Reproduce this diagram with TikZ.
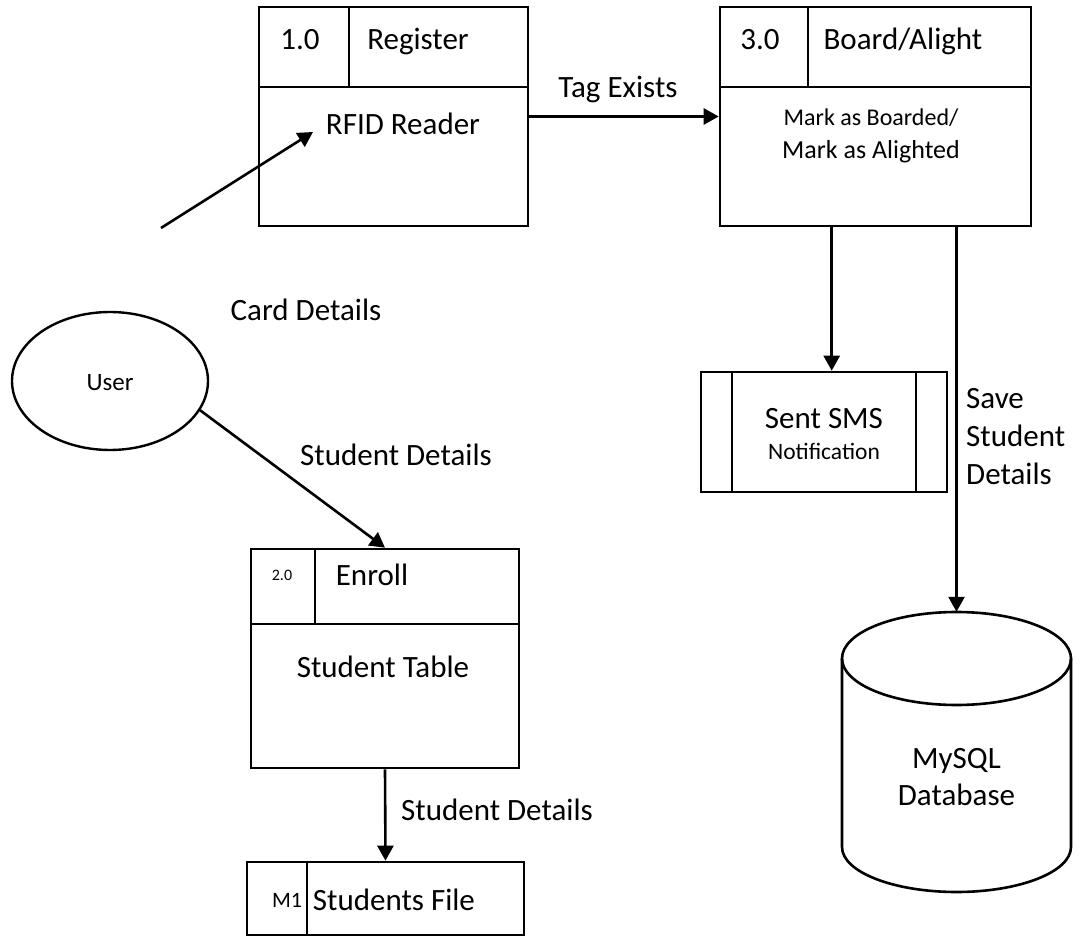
\documentclass[tikz,border=0pt]{standalone}
\usepackage{fontspec}
\setmainfont{Carlito}
\usetikzlibrary{arrows.meta,shapes.geometric,calc}
\tikzset{
  outer/.style={draw,line width=2.6pt,rectangle,inner sep=0pt},
  divider/.style={line width=1.6pt},
  arr/.style={line width=2.6pt,-{Triangle[length=15pt,width=16pt]}},
  plain/.style={line width=2.6pt},
  lbl/.style={inner sep=0pt,text height=20pt,text depth=0pt,font=\fontsize{31}{37}\selectfont},
}
\begin{document}
\begin{tikzpicture}[x=1pt,y=-1pt]
\useasboundingbox (0,0) rectangle (1080,944);
% Box 1.0 Register
\node[outer,minimum width=269pt,minimum height=219pt] (p1) at (393.5,116.5) {};
\draw[divider] (259,87) -- (528,87);
\draw[divider] (349,7) -- (349,87);
\node[lbl] (p1id) at (300,40) {1.0};
\node[lbl] (p1name) at (418,40) {Register};
\node[lbl] (p1txt) at (403,125) {RFID Reader};
% Box 3.0 Board/Alight
\node[outer,minimum width=311pt,minimum height=219pt] (p3) at (875.5,116.5) {};
\draw[divider] (720,87) -- (1031,87);
\draw[divider] (808,7) -- (808,87);
\node[lbl] (p3id) at (760,40) {3.0};
\node[lbl] (p3name) at (903,40) {Board/Alight};
\node[lbl,text height=15.5pt,font=\fontsize{24}{29}\selectfont] (p3txta) at (871,118) {Mark as Boarded/};
\node[lbl,text height=16.7pt,font=\fontsize{26}{31}\selectfont] (p3txtb) at (871,150) {Mark as Alighted};
% Tag Exists
\draw[arr] (p1.east) -- (p3.west);
\node[lbl] (tagl) at (618,88) {Tag Exists};
% Card details arrow
\coordinate (cdstart) at (161,228);
\coordinate (cdend) at (313,132);
\draw[arr] (cdstart) -- (cdend);
\node[lbl] (cardl) at (306,310) {Card Details};
% User
\node[draw,ellipse,line width=2.4pt,minimum width=196pt,minimum height=138pt,inner sep=0pt] (user) at (110,381) {};
\node[lbl,text height=16pt,font=\fontsize{25}{30}\selectfont] (usert) at (110,382) {User};
% Enroll box
\node[outer,minimum width=268pt,minimum height=219pt] (enroll) at (385,658.5) {};
\draw[divider] (251,624) -- (519,624);
\draw[divider] (315,549) -- (315,624);
\node[lbl,text height=10.3pt,font=\fontsize{16}{19}\selectfont] (p2id) at (282,575) {2.0};
\node[lbl] (p2name) at (372,575) {Enroll};
\node[lbl] (p2txt) at (383,667) {Student Table};
\draw[arr] (user.-18.6) -- (enroll.north);
\node[lbl] (sd1) at (396,455) {Student Details};
% Students File
\node[outer,minimum width=277pt,minimum height=73pt] (sf) at (385.5,898.5) {};
\draw[divider] (307,862) -- (307,935);
\node[lbl,text height=14.2pt,font=\fontsize{22}{26}\selectfont] (m1) at (287,900) {M1};
\node[lbl] (sft) at (394,900) {Students File};
\draw[arr] (enroll.south) -- (sf.north);
\node[lbl] (sd2) at (497,810) {Student Details};
% SMS box
\node[outer,minimum width=246pt,minimum height=120pt] (sms) at (824,432) {};
\draw[divider,line width=2.2pt] (732,372) -- (732,492);
\draw[divider,line width=2.2pt] (916,372) -- (916,492);
\node[lbl] (smsa) at (824,418) {Sent SMS};
\node[lbl,text height=15.1pt,font=\fontsize{23.5}{28}\selectfont] (smsb) at (824,452) {Notification};
\draw[arr] ([xshift=113pt]p3.south west) -- ([xshift=113pt]p3.south west |- sms.north);
% Database
\node[inner sep=0pt,minimum width=229pt,minimum height=280pt] (db) at (956.5,752) {};
\draw[plain] (956.5,658.5) ellipse [x radius=114.5pt, y radius=46.5pt];
\draw[plain] (842,658.5) -- (842,847) arc[start angle=180,end angle=360,x radius=114.5pt,y radius=45pt] -- (1071,658.5);
\node[lbl] (dba) at (956.5,758) {MySQL};
\node[lbl] (dbb) at (956.5,795) {Database};
\draw[arr] (db.north |- p3.south) -- (db.north);
\node[anchor=west,align=left,inner sep=0pt,font=\fontsize{31}{38}\selectfont] (save) at (966,437) {Save\\Student\\Details};
\end{tikzpicture}
\end{document}
